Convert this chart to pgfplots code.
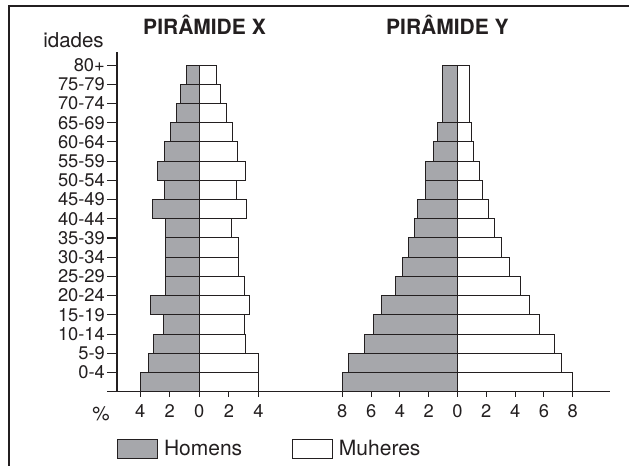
\documentclass[border=0pt]{standalone}
\usepackage{pgfplots}
\pgfplotsset{compat=1.18}
\usepackage{fontspec}
\setmainfont{TeX Gyre Heros}
\definecolor{lineblack}{RGB}{35,31,32}
\definecolor{bargray}{RGB}{166,167,171}
\newcommand{\tickfont}{\fontsize{18.3}{21}\selectfont}
\begin{document}
\begin{tikzpicture}[x=1pt,y=1pt]
\useasboundingbox (0,0) rectangle (629,466);
\fill[white] (0,0) rectangle (629,466);
\draw[lineblack,line width=1.2pt] (629,460) -- (9,460) -- (9,0);
% frame axis: y axis with age groups and the long horizontal axis
\begin{axis}[
  at={(117pt,74.3pt)}, anchor=south west,
  scale only axis, width=493pt, height=339.7pt,
  xmin=0, xmax=1, ymin=0, ymax=17.68,
  axis x line=bottom, axis y line=left,
  x axis line style={-}, y axis line style={-},
  axis line style={lineblack, line width=1.1pt},
  xtick=\empty,
  ytick={0,1,...,17},
  yticklabels={,0-4,5-9,10-14,15-19,20-24,25-29,30-34,35-39,40-44,45-49,50-54,55-59,60-64,65-69,70-74,75-79,80+},
  tick align=outside, major tick length=10pt,
  tick style={lineblack, line width=1.1pt},
  yticklabel style={font=\tickfont, text=lineblack, inner sep=2pt},
  xlabel={\%}, ylabel={idades},
  every axis x label/.style={at={(axis description cs:-0.0325,-0.0648)}, anchor=center, font=\fontsize{19.5}{22}\selectfont, text=lineblack},
  every axis y label/.style={at={(axis description cs:-0.0882,1.0353)}, anchor=center, font=\fontsize{20.5}{23}\selectfont, text=lineblack},
]
\end{axis}
% pyramid X
\begin{axis}[
  at={(117pt,74.3pt)}, anchor=south west,
  scale only axis, width=164.6pt, height=339.7pt,
  xmin=-5.56, xmax=5.56, ymin=0, ymax=17.68,
  hide y axis,
  axis x line=bottom, x axis line style={draw=none},
  xtick={-4,-2,0,2,4}, xticklabels={4,2,0,2,4},
  tick align=outside, major tick length=5pt,
  tick style={lineblack, line width=1.1pt},
  xticklabel style={font=\tickfont, text=lineblack, yshift=-4pt},
  title={PIRÂMIDE X},
  title style={at={(axis description cs:0.5316,1.0618)}, anchor=center, font=\fontsize{21}{24}\selectfont\bfseries, text=lineblack},
  legend style={at={(axis description cs:0,-0.1672)}, anchor=west, draw=none, fill=none, inner sep=0pt, outer sep=0pt, cells={anchor=west}, nodes={inner sep=0pt}, font=\fontsize{21}{24}\selectfont, text=lineblack},
  /tikz/every odd column/.append style={column sep=6pt},
]
\addplot[xbar, bar width=1, bar shift=0pt, fill=bargray, draw=lineblack, line width=1pt,
  legend image code/.code={\draw[fill=bargray,draw=lineblack,line width=1pt] (0pt,-9.5pt) rectangle (40pt,9.5pt);}]
  coordinates {(-3.94,0.5) (-3.42,1.5) (-3.11,2.5) (-2.43,3.5) (-3.33,4.5) (-2.30,5.5) (-2.30,6.5) (-2.30,7.5) (-2.30,8.5) (-3.15,9.5) (-2.32,10.5) (-2.81,11.5) (-2.32,12.5) (-1.96,13.5) (-1.53,14.5) (-1.24,15.5) (-0.85,16.5)};
\addlegendentry{Homens}
\addplot[xbar, bar width=1, bar shift=0pt, fill=white, draw=lineblack, line width=1pt, forget plot]
  coordinates {(4.00,0.5) (4.00,1.5) (3.13,2.5) (3.04,3.5) (3.36,4.5) (3.02,5.5) (2.64,6.5) (2.64,7.5) (2.19,8.5) (3.16,9.5) (2.50,10.5) (3.11,11.5) (2.55,12.5) (2.23,13.5) (1.85,14.5) (1.40,15.5) (1.17,16.5)};
\end{axis}
% pyramid Y
\begin{axis}[
  at={(335.1pt,74.3pt)}, anchor=south west,
  scale only axis, width=244.8pt, height=339.7pt,
  xmin=-8.5, xmax=8.5, ymin=0, ymax=17.68,
  hide y axis,
  axis x line=bottom, x axis line style={draw=none},
  xtick={-8,-6,-4,-2,0,2,4,6,8}, xticklabels={8,6,4,2,0,2,4,6,8},
  tick align=outside, major tick length=5pt,
  tick style={lineblack, line width=1.1pt},
  xticklabel style={font=\tickfont, text=lineblack, yshift=-4pt},
  title={PIRÂMIDE Y},
  title style={at={(axis description cs:0.459,1.0618)}, anchor=center, font=\fontsize{21}{24}\selectfont\bfseries, text=lineblack},
  legend style={at={(axis description cs:-0.1761,-0.1672)}, anchor=west, draw=none, fill=none, inner sep=0pt, outer sep=0pt, cells={anchor=west}, nodes={inner sep=0pt}, font=\fontsize{21}{24}\selectfont, text=lineblack},
  /tikz/every odd column/.append style={column sep=6pt},
]
\addplot[xbar, bar width=1, bar shift=0pt, fill=bargray, draw=lineblack, line width=1pt, forget plot]
  coordinates {(-8.00,0.5) (-7.60,1.5) (-6.45,2.5) (-5.85,3.5) (-5.25,4.5) (-4.29,5.5) (-3.80,6.5) (-3.40,7.5) (-2.97,8.5) (-2.79,9.5) (-2.20,10.5) (-2.19,11.5) (-1.64,12.5) (-1.37,13.5)};
\addplot[xbar, bar width=3, bar shift=0pt, fill=bargray, draw=lineblack, line width=1pt, forget plot]
  coordinates {(-1.05,15.5)};
\addplot[xbar, bar width=1, bar shift=0pt, fill=white, draw=lineblack, line width=1pt,
  legend image code/.code={\draw[fill=white,draw=lineblack,line width=1pt] (0pt,-9.5pt) rectangle (40pt,9.5pt);}]
  coordinates {(8.00,0.5) (7.20,1.5) (6.76,2.5) (5.68,3.5) (5.00,4.5) (4.40,5.5) (3.64,6.5) (3.04,7.5) (2.60,8.5) (2.18,9.5) (1.73,10.5) (1.53,11.5) (1.14,12.5) (0.96,13.5)};
\addlegendentry{Muheres}
\addplot[xbar, bar width=3, bar shift=0pt, fill=white, draw=lineblack, line width=1pt, forget plot]
  coordinates {(0.80,15.5)};
\end{axis}
\end{tikzpicture}
\end{document}
